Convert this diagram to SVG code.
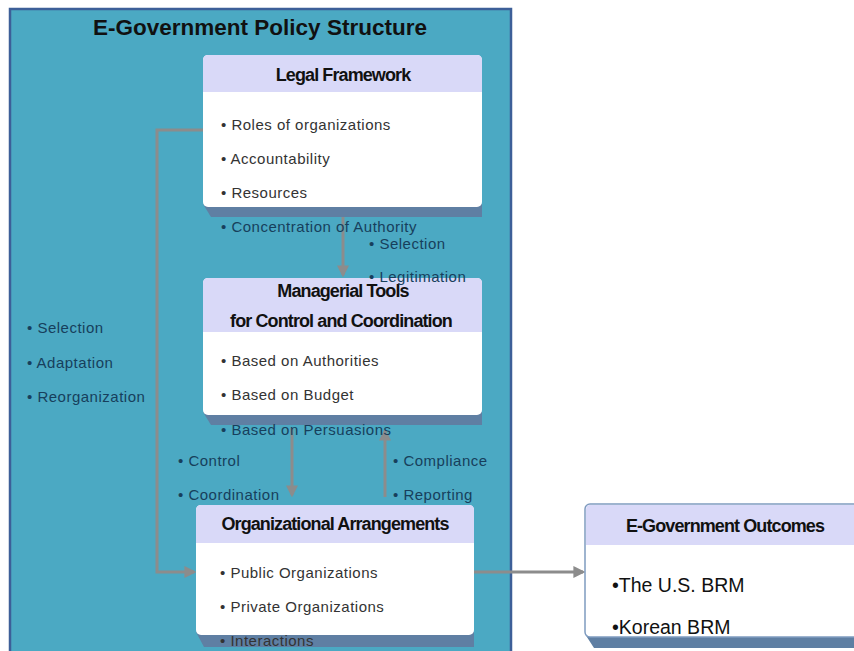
<svg xmlns="http://www.w3.org/2000/svg" width="854" height="651" viewBox="0 0 854 651">
  <defs>
    <style>
      .title { font-family: "Liberation Sans", Arial, sans-serif; font-weight: bold; font-size: 22.5px; fill: #111; }
      .head { font-family: "Liberation Sans", Arial, sans-serif; font-weight: bold; font-size: 18px; fill: #111; letter-spacing: -0.9px; }
      .item { font-family: "Liberation Sans", Arial, sans-serif; font-size: 15px; fill: #333; letter-spacing: 0.5px; }
      .out { font-family: "Liberation Sans", Arial, sans-serif; font-size: 15px; fill: #173f5c; letter-spacing: 0.5px; }
      .big { font-family: "Liberation Sans", Arial, sans-serif; font-size: 19.5px; fill: #111; }
      .hdr { fill: #d9d9f8; }
      .body { fill: #ffffff; }
      .shade { fill: #5f7fa3; }
      .conn { fill: none; stroke: #8c8c8c; stroke-width: 3; }
    </style>
    <marker id="ah" viewBox="0 0 10 10" refX="8" refY="5" markerWidth="4" markerHeight="4" orient="auto">
      <path d="M0,0 L10,5 L0,10 z" fill="#8c8c8c"/>
    </marker>
  </defs>

  <!-- policy structure panel -->
  <g id="panel">
    <rect x="10" y="9" width="501" height="650" fill="#4ba9c3" stroke="#3d5f98" stroke-width="2.5"/>
    <text class="title" x="260" y="35" text-anchor="middle">E-Government Policy Structure</text>
  </g>

  <!-- connectors -->
  <g id="connectors">
    <line class="conn" x1="343" y1="210" x2="343" y2="275" marker-end="url(#ah)"/>
    <polyline class="conn" points="204,130 157,130 157,572 194,572" marker-end="url(#ah)"/>
    <line class="conn" x1="292" y1="428" x2="292" y2="495" marker-end="url(#ah)"/>
    <line class="conn" x1="385" y1="497" x2="385" y2="431" marker-end="url(#ah)"/>
    <line class="conn" x1="474" y1="572" x2="583" y2="572" marker-end="url(#ah)"/>
  </g>

  <!-- Legal Framework -->
  <g id="legal">
    <polygon class="shade" points="203,204 482,204 482,217 211,217"/>
    <rect class="body" x="203" y="55" width="279" height="152" rx="5"/>
    <path class="hdr" d="M208,55 H477 Q482,55 482,60 V92 H203 V60 Q203,55 208,55 z"/>
    <text class="head" x="343" y="81" text-anchor="middle">Legal Framework</text>
    <text class="item" x="221" y="130">• Roles of organizations</text>
    <text class="item" x="221" y="164">• Accountability</text>
    <text class="item" x="221" y="198">• Resources</text>
  </g>

  <!-- labels between legal framework and managerial tools -->
  <g id="legal-labels">
    <text class="out" x="221" y="232">• Concentration of Authority</text>
    <text class="out" x="369" y="249">• Selection</text>
  </g>

  <!-- Managerial Tools -->
  <g id="managerial">
    <polygon class="shade" points="203,412 482,412 482,425 211,425"/>
    <rect class="body" x="203" y="278" width="279" height="137" rx="5"/>
    <path class="hdr" d="M208,278 H477 Q482,278 482,283 V332 H203 V283 Q203,278 208,278 z"/>
    <text class="head" x="343" y="297" text-anchor="middle">Managerial Tools</text>
    <text class="head" x="341" y="327" text-anchor="middle">for Control and Coordination</text>
    <text class="item" x="221" y="366">• Based on Authorities</text>
    <text class="item" x="221" y="400">• Based on Budget</text>
  </g>

  <g id="managerial-labels">
    <text class="out" x="369" y="282">• Legitimation</text>
    <text class="out" x="221" y="435">• Based on Persuasions</text>
    <text class="out" x="178" y="466">• Control</text>
    <text class="out" x="178" y="500">• Coordination</text>
    <text class="out" x="393" y="466">• Compliance</text>
    <text class="out" x="393" y="500">• Reporting</text>
  </g>

  <!-- feedback labels -->
  <g id="feedback-labels">
    <text class="out" x="27" y="333">• Selection</text>
    <text class="out" x="27" y="368">• Adaptation</text>
    <text class="out" x="27" y="402">• Reorganization</text>
  </g>

  <!-- Organizational Arrangements -->
  <g id="organizational">
    <polygon class="shade" points="196,632 474,632 474,647 204,647"/>
    <rect class="body" x="196" y="505" width="278" height="130" rx="5"/>
    <path class="hdr" d="M201,505 H469 Q474,505 474,510 V543 H196 V510 Q196,505 201,505 z"/>
    <text class="head" x="335" y="530" text-anchor="middle">Organizational Arrangements</text>
    <text class="item" x="220" y="578">• Public Organizations</text>
    <text class="item" x="220" y="612">• Private Organizations</text>
    <text class="item" x="220" y="646">• Interactions</text>
  </g>

  <!-- E-Government Outcomes -->
  <g id="outcomes">
    <polygon class="shade" points="585,634 860,634 860,648 594,648"/>
    <rect class="body" x="585" y="504" width="280" height="133" rx="5" stroke="#7f9cc0" stroke-width="1.5"/>
    <path class="hdr" d="M590,505 H865 V545 H586 V510 Q586,505 590,505 z"/>
    <text class="head" x="725" y="532" text-anchor="middle">E-Government Outcomes</text>
    <text class="big" x="612" y="592">•The U.S. BRM</text>
    <text class="big" x="612" y="634">•Korean BRM</text>
  </g>
</svg>
